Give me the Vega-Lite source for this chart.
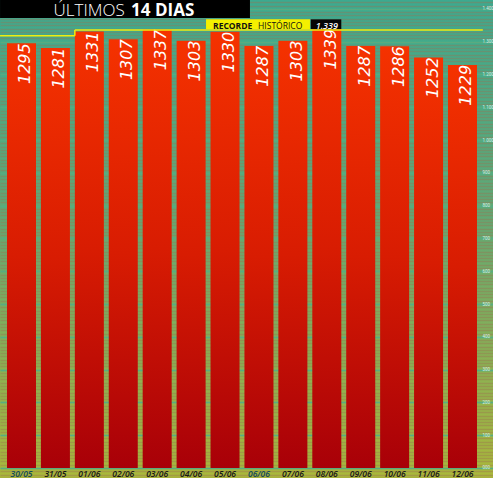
{
  "$schema": "https://vega.github.io/schema/vega-lite/v6.json",
  "width": 493,
  "height": 478,
  "autosize": {"type": "none"},
  "padding": 0,
  "background": "#5aa67a",
  "view": {
    "stroke": null,
    "fill": {"gradient": "linear", "x1": 0, "y1": 0, "x2": 0, "y2": 1,
      "stops": [
        {"offset": 0, "color": "#3caa90"},
        {"offset": 0.45, "color": "#62a874"},
        {"offset": 1, "color": "#aab83a"}
      ]}
  },
  "data": {"values": [
    {"d": "30/05", "v": 1295},
    {"d": "31/05", "v": 1281},
    {"d": "01/06", "v": 1331},
    {"d": "02/06", "v": 1307},
    {"d": "03/06", "v": 1337},
    {"d": "04/06", "v": 1303},
    {"d": "05/06", "v": 1330},
    {"d": "06/06", "v": 1287},
    {"d": "07/06", "v": 1303},
    {"d": "08/06", "v": 1339},
    {"d": "09/06", "v": 1287},
    {"d": "10/06", "v": 1286},
    {"d": "11/06", "v": 1252},
    {"d": "12/06", "v": 1229}
  ]},
  "resolve": {"axis": {"y": "independent"}},
  "layer": [
    {
      "mark": {"type": "bar", "fill": {"gradient": "linear", "x1": 0, "y1": 0, "x2": 0, "y2": 1,
        "stops": [
          {"offset": 0, "color": "#f53200"},
          {"offset": 0.5, "color": "#d81c02"},
          {"offset": 1, "color": "#a80008"}
        ]}},
      "encoding": {
        "x": {"field": "d", "type": "nominal",
          "scale": {"domain": ["30/05","31/05","01/06","02/06","03/06","04/06","05/06","06/06","07/06","08/06","09/06","10/06","11/06","12/06"],
            "paddingInner": 0.145, "paddingOuter": 0.339, "align": 0.304},
          "axis": {"title": null, "orient": "bottom", "offset": -10, "domain": false, "ticks": false,
            "labelPadding": 8, "labelBaseline": "alphabetic", "labelFontSize": 8.5, "labelFont": "Open Sans",
            "labelFontStyle": "italic", "labelFontWeight": 600, "labelAngle": 0,
            "labelColor": {"condition": {"test": "datum.value == '30/05' || datum.value == '06/06'", "value": "#0e4a5c"}, "value": "#151515"}}},
        "y": {"field": "v", "type": "quantitative",
          "scale": {"domain": [-30.5, 1427], "nice": false, "zero": false},
          "axis": {"title": null, "orient": "right", "offset": -12, "domain": false, "ticks": false,
            "values": [0,100,200,300,400,500,600,700,800,900,1000,1100,1200,1300,1400],
            "labelExpr": "datum.value == 0 ? '000' : replace(format(datum.value, ','), ',', '.')",
            "labelPadding": 1, "labelFontSize": 4.5, "labelFont": "Roboto", "labelColor": "#d8f0e8", "labelAlign": "left",
            "grid": true, "gridColor": "#2fd0a0", "gridWidth": 1.5}},
        "y2": {"datum": 0}
      }
    },
    {
      "mark": {"type": "text", "angle": 270, "align": "right", "baseline": "middle", "dy": 4,
        "fill": "white", "font": "DejaVu Sans", "fontSize": 16, "fontStyle": "italic"},
      "encoding": {
        "x": {"field": "d", "type": "nominal"},
        "y": {"field": "v", "type": "quantitative",
          "axis": {"title": null, "orient": "left", "labels": false, "ticks": false, "domain": false,
            "tickCount": 146, "grid": true, "gridColor": "#9a7050", "gridOpacity": 0.4, "gridWidth": 1.5}},
        "text": {"field": "v", "type": "nominal"}
      }
    },
    {
      "data": {"values": [{}]},
      "mark": {"type": "rect", "fill": "black"},
      "encoding": {
        "x": {"datum": "30/05", "type": "nominal", "bandPosition": -0.24},
        "x2": {"datum": "06/06", "bandPosition": 0.19},
        "y": {"datum": 1372, "type": "quantitative", "axis": null},
        "y2": {"datum": 1427}
      }
    },
    {
      "data": {"values": [{}]},
      "mark": {"type": "text", "text": "ÚLTIMOS", "align": "right", "baseline": "alphabetic",
        "fill": "white", "font": "Open Sans", "fontWeight": 300, "fontSize": 17},
      "encoding": {
        "x": {"datum": "02/06", "type": "nominal", "bandPosition": 0.55},
        "y": {"datum": 1379, "type": "quantitative", "axis": null}
      }
    },
    {
      "data": {"values": [{}]},
      "mark": {"type": "text", "text": "14 DIAS", "align": "left", "baseline": "alphabetic",
        "fill": "white", "font": "Open Sans", "fontWeight": "bold", "fontSize": 17},
      "encoding": {
        "x": {"datum": "02/06", "type": "nominal", "bandPosition": 0.77},
        "y": {"datum": 1379, "type": "quantitative", "axis": null}
      }
    },
    {
      "data": {"values": [{}]},
      "mark": {"type": "rect", "fill": "#f4f000"},
      "encoding": {
        "x": {"datum": "05/06", "type": "nominal", "bandPosition": -0.155},
        "x2": {"datum": "08/06", "bandPosition": -0.08},
        "y": {"datum": 1337.6, "type": "quantitative", "axis": null},
        "y2": {"datum": 1368}
      }
    },
    {
      "data": {"values": [{}]},
      "mark": {"type": "rect", "fill": "#050505"},
      "encoding": {
        "x": {"datum": "08/06", "type": "nominal", "bandPosition": -0.05},
        "x2": {"datum": "08/06", "bandPosition": 1.0},
        "y": {"datum": 1337.6, "type": "quantitative", "axis": null},
        "y2": {"datum": 1368}
      }
    },
    {
      "data": {"values": [{}]},
      "mark": {"type": "text", "text": "RECORDE", "align": "left", "baseline": "alphabetic",
        "fill": "#111", "font": "Open Sans", "fontWeight": "bold", "fontSize": 8.5},
      "encoding": {
        "x": {"datum": "05/06", "type": "nominal", "bandPosition": 0.086},
        "y": {"datum": 1340, "type": "quantitative", "axis": null}
      }
    },
    {
      "data": {"values": [{}]},
      "mark": {"type": "text", "text": "HISTÓRICO", "align": "left", "baseline": "alphabetic",
        "fill": "#111", "font": "Open Sans", "fontWeight": "normal", "fontSize": 8.5},
      "encoding": {
        "x": {"datum": "06/06", "type": "nominal", "bandPosition": 0.47},
        "y": {"datum": 1340, "type": "quantitative", "axis": null}
      }
    },
    {
      "data": {"values": [{}]},
      "mark": {"type": "text", "text": "1.339", "align": "center", "baseline": "alphabetic",
        "fill": "white", "font": "Open Sans", "fontStyle": "italic", "fontWeight": 600, "fontSize": 9},
      "encoding": {
        "x": {"datum": "08/06", "type": "nominal", "bandPosition": 0.5},
        "y": {"datum": 1340, "type": "quantitative", "axis": null}
      }
    },
    {
      "data": {"values": [{}]},
      "mark": {"type": "rule", "stroke": "#eeee10", "strokeWidth": 1.5},
      "encoding": {
        "x": {"datum": "30/05", "type": "nominal", "bandPosition": -0.24},
        "x2": {"datum": "01/06", "bandPosition": 0},
        "y": {"datum": 1318, "type": "quantitative", "axis": null}
      }
    },
    {
      "data": {"values": [{}]},
      "mark": {"type": "rule", "stroke": "#eeee10", "strokeWidth": 1.5},
      "encoding": {
        "x": {"datum": "01/06", "type": "nominal", "bandPosition": 0},
        "x2": {"datum": "12/06", "bandPosition": 1.2},
        "y": {"datum": 1335.5, "type": "quantitative", "axis": null}
      }
    },
    {
      "data": {"values": [{}]},
      "mark": {"type": "rule", "stroke": "#eeee10", "strokeWidth": 1.5},
      "encoding": {
        "x": {"datum": "01/06", "type": "nominal", "bandPosition": 0},
        "y": {"datum": 1318, "type": "quantitative", "axis": null},
        "y2": {"datum": 1335.5}
      }
    }
  ]
}
